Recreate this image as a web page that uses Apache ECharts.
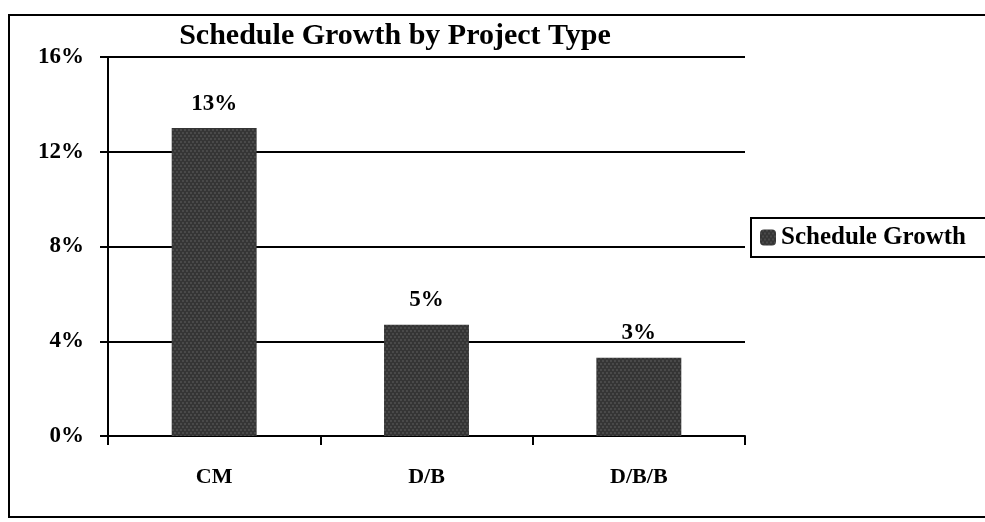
<!DOCTYPE html>
<html>
<head>
<meta charset="utf-8">
<script src="https://cdn.jsdelivr.net/npm/echarts@6/dist/echarts.min.js"></script>
<style>
  html, body { margin: 0; padding: 0; background: #fff; }
  #main { width: 985px; height: 522px; }
</style>
</head>
<body>
<div id="main"></div>
<script>
let categories = ["CM", "D/B", "D/B/B"];
let growth = [13, 4.7, 3.3];
let yTicks = [0, 4, 8, 12, 16];

let serif = "'Liberation Serif', 'Times New Roman', serif";

let myChart = echarts.init(document.getElementById("main"), null, { renderer: "canvas" });

let option = {
  backgroundColor: "#fff",
  animation: false,
  title: {
    text: "Schedule Growth by Project Type",
    left: 390,
    textAlign: "center",
    top: 16,
    textStyle: { fontFamily: serif, fontWeight: "bold", fontSize: 30, color: "#000" },
  },
  // outer frame
  graphic: [
    {
      type: "rect",
      shape: { x: 9, y: 15, width: 990, height: 502 },
      style: { fill: "none", stroke: "#000", lineWidth: 2 },
      silent: true,
    },
  ],
  legend: {
    data: ["Schedule Growth"],
    left: 751,
    top: 218,
    orient: "vertical",
    itemWidth: 16,
    itemHeight: 16,
    itemGap: 4,
    padding: [7, 30, 7, 9],
    borderColor: "#000",
    borderWidth: 2,
    textStyle: { fontFamily: serif, fontWeight: "bold", fontSize: 25, color: "#000" },
  },
  grid: { left: 108, top: 57, right: 240, bottom: 86 },
  xAxis: {
    type: "category",
    data: categories,
    axisLine: { lineStyle: { color: "#000", width: 2 } },
    axisTick: { show: true, length: 9, lineStyle: { color: "#000", width: 2 } },
    axisLabel: {
      margin: 30,
      fontFamily: serif,
      fontWeight: "bold",
      fontSize: 22,
      color: "#000",
    },
  },
  yAxis: {
    type: "value",
    min: 0,
    max: 16,
    interval: 4,
    axisLine: { show: true, lineStyle: { color: "#000", width: 2 } },
    axisTick: { show: true, length: 8, lineStyle: { color: "#000", width: 2 } },
    splitLine: { show: true, lineStyle: { color: "#000", width: 2 } },
    axisLabel: {
      margin: 24,
      fontFamily: serif,
      fontWeight: "bold",
      fontSize: 23,
      color: "#000",
      formatter: (v) => (yTicks.includes(v) ? v + "%" : ""),
    },
  },
  series: [
    {
      name: "Schedule Growth",
      type: "bar",
      data: growth,
      barWidth: "40%",
      itemStyle: {
        color: "#353535",
        decal: {
          symbol: "rect",
          symbolSize: 0.6,
          color: "rgba(255,255,255,0.35)",
          dashArrayX: [[2, 2], [0, 2, 2, 0]],
          dashArrayY: [2, 1],
          rotation: 0,
        },
      },
      label: {
        show: true,
        position: "top",
        distance: 13,
        fontFamily: serif,
        fontWeight: "bold",
        fontSize: 23,
        color: "#000",
        formatter: (p) => Math.round(p.value) + "%",
      },
    },
  ],
};

myChart.setOption(option);
</script>
</body>
</html>
